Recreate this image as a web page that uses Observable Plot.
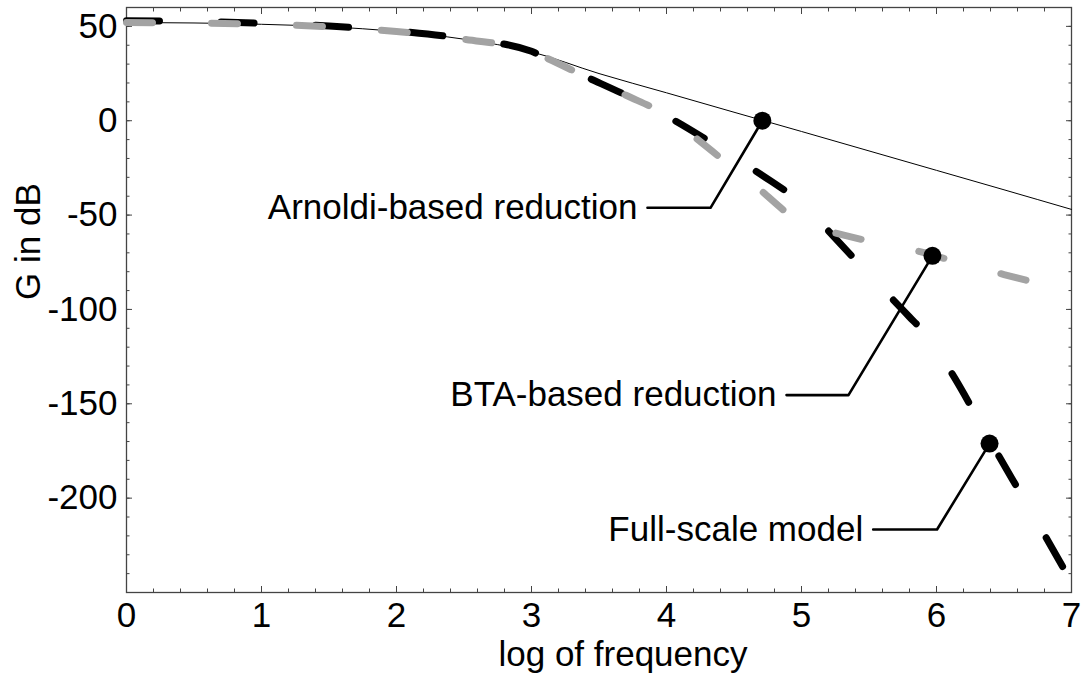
<!DOCTYPE html>
<html><head><meta charset="utf-8">
<script src="https://cdn.jsdelivr.net/npm/d3@7"></script>
<script src="https://cdn.jsdelivr.net/npm/@observablehq/plot@0.6"></script>
<style>body{margin:0;background:#fff;} svg{display:block}</style>
</head><body><div id="chart"></div>
<script>
// Arnoldi-based reduction (thin line)
const arnoldiX = [0, 0.5, 1, 1.5, 2, 2.5, 3, 3.5, 4, 4.5, 5, 5.5, 6, 6.5, 7];
const arnoldiY = [52, 51.8, 51.1, 49.8, 47.3, 43.2, 36.5, 25, 14.8, 4.5, -5.7, -16, -26.3, -36.6, -47];
// Full-scale model (black dashed)
const fullX = [0, 0.5, 1, 1.5, 2, 2.5, 3, 3.07, 3.4, 3.7, 4, 4.3, 4.6, 4.9, 5, 5.2, 5.5, 5.8, 5.9, 6.1, 6.4, 6.7, 7];
const fullY = [53, 52.6, 51.6, 50.2, 47.6, 43.5, 36.8, 34.5, 23.4, 13.5, 2.5, -10.2, -23.8, -38, -42.7, -58.4, -81.4, -104, -111.5, -132.3, -170, -207, -244.5];
// BTA-based reduction (gray dashed)
const btaX = [0, 0.5, 1, 1.5, 2, 2.5, 3, 3.07, 3.4, 3.7, 4, 4.2, 4.4, 4.7, 4.9, 5.05, 5.25, 5.5, 5.9, 6.1, 6.5, 6.7, 7];
const btaY = [52, 51.8, 51.1, 49.8, 47.3, 43.2, 36.6, 34.5, 23.4, 13.5, 2.8, -8.2, -19.7, -37, -49.2, -56, -59.5, -63.8, -69.8, -73.8, -81.5, -85.2, -90.5];

// annotations
const annLabels = ["Arnoldi-based reduction", "BTA-based reduction", "Full-scale model"];
const annDotX = [4.71, 5.97, 6.393];
const annDotY = [0, -71.6, -171.1];
const annElbowX = [4.326, 5.348, 6.004];
const annElbowY = [-46.15, -145.4, -216.6];
const annEndX = [3.859, 4.889, 5.531];

// ticks
const xMajor = [0, 1, 2, 3, 4, 5, 6, 7];
const xMinor = d3.range(0, 36).map(i => i / 5);
const yMajor = [-200, -150, -100, -50, 0, 50];
const yMinor = d3.range(-250, 61, 10);

const series = (xs, ys) => xs.map((x, i) => ({x, y: ys[i]}));
const arnoldi = series(arnoldiX, arnoldiY);
const full = series(fullX, fullY);
const bta = series(btaX, btaY);
const dots = annLabels.map((l, i) => ({label: l, x: annDotX[i], y: annDotY[i]}));
const leaders = annLabels.flatMap((l, i) => [
  {label: l, x: annDotX[i], y: annDotY[i]},
  {label: l, x: annElbowX[i], y: annElbowY[i]},
  {label: l, x: annEndX[i], y: annElbowY[i]}
]);
const texts = annLabels.map((l, i) => ({label: l, x: annEndX[i], y: annElbowY[i]}));

const font = "'Liberation Sans', Arial, Helvetica, sans-serif";
const fc = "#444";
const fs = 35;

const plot = Plot.plot({
  width: 1085, height: 677,
  marginLeft: 126, marginRight: 14, marginTop: 7, marginBottom: 85,
  style: {fontFamily: font, fontSize: "35px", color: "#000", background: "#fff", overflow: "visible"},
  x: {domain: [0, 7], label: null},
  y: {domain: [-250, 60], label: null},
  marks: [
    Plot.frame({stroke: fc, strokeWidth: 1.3}),
    // inward ticks on all four sides
    Plot.axisX(xMinor, {anchor: "bottom", tickSize: -3.5, tickFormat: () => "", label: null, stroke: fc}),
    Plot.axisX(xMajor, {anchor: "bottom", tickSize: -6, tickFormat: () => "", label: null, stroke: fc}),
    Plot.axisX(xMinor, {anchor: "top", tickSize: -3.5, tickFormat: () => "", label: null, stroke: fc}),
    Plot.axisX(xMajor, {anchor: "top", tickSize: -6, tickFormat: () => "", label: null, stroke: fc}),
    Plot.axisY(yMinor, {anchor: "left", tickSize: -3.5, tickFormat: () => "", label: null, stroke: fc}),
    Plot.axisY(yMajor, {anchor: "left", tickSize: -6, tickFormat: () => "", label: null, stroke: fc}),
    Plot.axisY(yMinor, {anchor: "right", tickSize: -3.5, tickFormat: () => "", label: null, stroke: fc}),
    Plot.axisY(yMajor, {anchor: "right", tickSize: -6, tickFormat: () => "", label: null, stroke: fc}),
    // tick labels
    Plot.axisX(xMajor, {anchor: "bottom", tickSize: 0, tickPadding: 10, tickFormat: d => String(d), label: null, fontSize: fs, fill: "#000"}),
    Plot.axisY(yMajor, {anchor: "left", tickSize: 0, tickPadding: 9, tickFormat: d => String(d), label: null, fontSize: fs, fill: "#000"}),
    // axis titles
    Plot.text(["log of frequency"], {frameAnchor: "bottom", text: d => d, dx: 24, dy: 62, lineAnchor: "middle", fontSize: fs, fill: "#000"}),
    Plot.text(["G in dB"], {frameAnchor: "left", text: d => d, rotate: -90, dx: -98, lineAnchor: "middle", fontSize: fs, fill: "#000"}),
    // curves
    Plot.line(arnoldi, {x: "x", y: "y", stroke: "#000", strokeWidth: 1, curve: "monotone-x"}),
    Plot.line(full, {x: "x", y: "y", stroke: "#000", strokeWidth: 7, strokeDasharray: "33 61.6", strokeLinecap: "round", curve: "monotone-x"}),
    Plot.line(bta, {x: "x", y: "y", stroke: "#a3a3a3", strokeWidth: 7, strokeDasharray: "26 59", strokeLinecap: "round", curve: "monotone-x"}),
    // annotations
    Plot.line(leaders, {x: "x", y: "y", z: "label", stroke: "#000", strokeWidth: 2.6}),
    Plot.dot(dots, {x: "x", y: "y", r: 9, fill: "#000"}),
    Plot.text(texts, {x: "x", y: "y", text: "label", textAnchor: "end", dx: -10, lineAnchor: "middle", fontSize: fs, fill: "#000"})
  ]
});
document.getElementById("chart").append(plot);
</script>
</body></html>
